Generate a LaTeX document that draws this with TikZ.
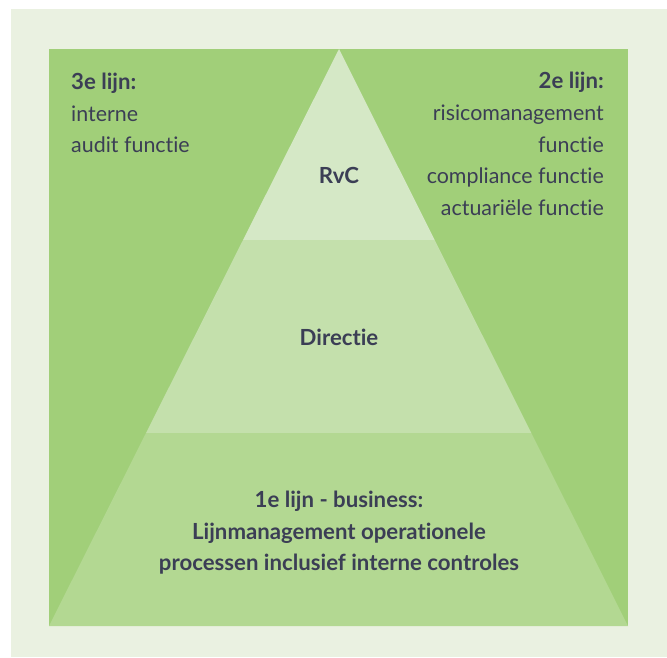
\documentclass[tikz,border=0pt]{standalone}
\usepackage{fontspec}
\setmainfont{Lato}[Ligatures={NoCommon}]
\definecolor{bgl}{HTML}{EAF1E1}
\definecolor{dk}{HTML}{A1CF79}
\definecolor{ltop}{HTML}{D5E8C6}
\definecolor{lmid}{HTML}{C4E0AC}
\definecolor{lbot}{HTML}{B3D892}
\definecolor{txt}{HTML}{3B3E55}
\begin{document}
\begin{tikzpicture}[x=1pt,y=-1pt,
  lbl/.style={inner sep=0pt, text=txt, font=\fontsize{21.4}{32}\selectfont},
  bl/.style={lbl, font=\fontsize{22.2}{32}\selectfont\bfseries}]
\useasboundingbox (0,0) rectangle (667,657);
\fill[white] (0,0) rectangle (667,657);
\fill[bgl] (11,9) rectangle (667,657);
\fill[dk] (49,49) rectangle (628,626);
\coordinate (apex) at (339,49);
\coordinate (bl) at (49,626);
\coordinate (br) at (628,626);
\coordinate (l1) at (243,240);
\coordinate (r1) at (434.7,240);
\coordinate (l2) at (146,433);
\coordinate (r2) at (531.3,433);
\fill[ltop] (apex) -- (r1) -- (l1) -- cycle;
\fill[lmid] (l1) -- (r1) -- (r2) -- (l2) -- cycle;
\fill[lbot] (l2) -- (r2) -- (br) -- (bl) -- cycle;
% left text
\node[bl, anchor=base west] (t3a) at (71,89) {3e lijn:};
\node[lbl, anchor=base west] (t3b) at (71,121) {interne};
\node[lbl, anchor=base west] (t3c) at (71,152) {audit functie};
% right text
\node[bl, anchor=base east] (t2a) at (604,88) {2e lijn:};
\node[lbl, anchor=base east] (t2b) at (604,120) {risicomanagement};
\node[lbl, anchor=base east] (t2c) at (604,152) {functie};
\node[lbl, anchor=base east] (t2d) at (604,183) {compliance functie};
\node[lbl, anchor=base east] (t2e) at (604,215) {actuariële functie};
% pyramid labels
\node[bl, anchor=base] (rvc) at (339,183) {RvC};
\node[bl, anchor=base] (dir) at (339,345) {Directie};
\node[bl, anchor=base] (b1) at (339,507) {1e lijn - business:};
\node[bl, anchor=base] (b2) at (339,539) {Lijnmanagement operationele};
\node[bl, anchor=base] (b3) at (339,570) {processen inclusief interne controles};
\end{tikzpicture}
\end{document}
